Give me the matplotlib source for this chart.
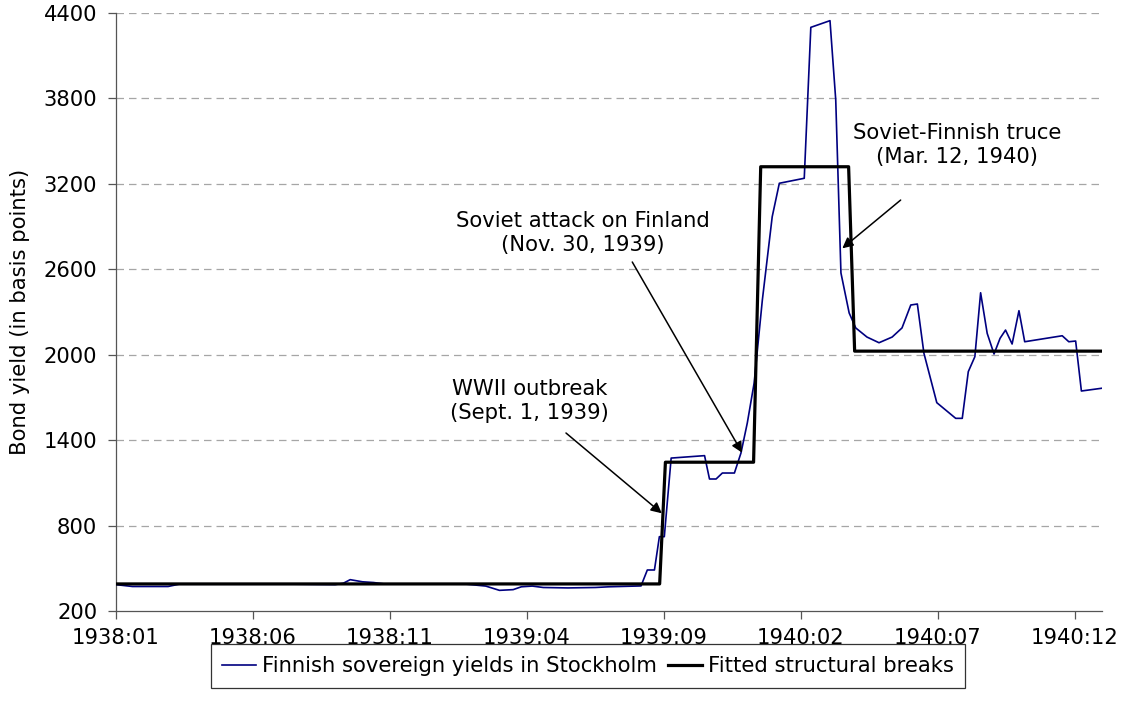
import matplotlib
matplotlib.use("Agg")
import matplotlib.pyplot as plt

# ---- data (x in months since 1938:01) ----
yield_month = [0.0, 0.6, 1.9, 2.3, 6.5, 8.0, 8.3, 8.55, 9.0, 9.4, 9.8, 12.8, 13.5, 14.0,
               14.5, 14.8, 15.2, 15.6, 16.5, 17.5, 18.0, 19.17, 19.40, 19.66, 19.84,
               20.02, 20.27, 21.49, 21.67, 21.91, 22.14, 22.58, 22.82, 23.05, 23.30,
               23.60, 23.96, 24.22, 25.13, 25.37, 26.07, 26.28, 26.47, 26.77, 27.01,
               27.42, 27.86, 28.34, 28.70, 29.02, 29.26, 29.50, 29.97, 30.66, 30.90,
               31.12, 31.36, 31.57, 31.81, 32.06, 32.28, 32.48, 32.72, 32.97, 33.18,
               34.55, 34.79, 35.04, 35.25, 35.98]
yield_bp = [385, 372, 372, 388, 388, 385, 395, 420, 405, 400, 390, 388, 375, 345,
            350, 370, 375, 365, 362, 365, 370, 376, 488, 488, 722,
            722, 1274, 1291, 1127, 1127, 1169, 1169, 1310, 1520, 1801,
            2384, 2969, 3204, 3239, 4299, 4346, 3789, 2574, 2293, 2188,
            2124, 2084, 2124, 2188, 2349, 2356, 2010, 1663, 1553, 1553,
            1881, 1986, 2435, 2150, 2005, 2115, 2173, 2075, 2309, 2091,
            2133, 2091, 2096, 1745, 1764]

break_month = [0, 19.85, 20.06, 23.28, 23.54, 26.75, 26.97, 36]
break_bp = [390, 390, 1245, 1245, 3320, 3320, 2025, 2025]

tick_months = [0, 5, 10, 15, 20, 25, 30, 35]
tick_labels = ["1938:01", "1938:06", "1938:11", "1939:04", "1939:09",
               "1940:02", "1940:07", "1940:12"]
y_ticks = [200, 800, 1400, 2000, 2600, 3200, 3800, 4400]

plt.rcParams['font.family'] = ['DejaVu Sans']
fs = 15.2

fig = plt.figure(figsize=(11.31, 7.01), dpi=100)
ax = fig.add_axes([0.1026, 0.1284, 0.8717, 0.8531])

ax.plot(yield_month, yield_bp, color='#000080', lw=1.2,
        label='Finnish sovereign yields in Stockholm', zorder=3)
ax.plot(break_month, break_bp, color='black', lw=2.3,
        label='Fitted structural breaks', zorder=4)

ax.set_xlim(0, 36)
ax.set_ylim(200, 4400)
ax.set_xticks(tick_months)
ax.set_xticklabels(tick_labels)
ax.set_yticks(y_ticks)
for v in y_ticks[1:]:
    ax.axhline(v, color='#a6a6a6', lw=0.9, ls=(0, (6, 4)), zorder=1)

for s in ['top', 'right']:
    ax.spines[s].set_visible(False)
for s in ['left', 'bottom']:
    ax.spines[s].set_color('#555555')
    ax.spines[s].set_linewidth(0.9)
ax.tick_params(axis='both', direction='out', length=5.5, width=0.9, color='#555555',
               labelsize=fs)
ax.tick_params(axis='y', pad=8)
ax.tick_params(axis='x', pad=7)
ax.set_ylabel('Bond yield (in basis points)', fontsize=fs, labelpad=10)

ann_kw = dict(ha='center', va='center', fontsize=fs, linespacing=1.3)
arrow_kw = dict(arrowstyle='-|>', color='black', lw=1.1, mutation_scale=16,
                shrinkA=0, shrinkB=0)

ax.text(15.1, 1675, 'WWII outbreak\n(Sept. 1, 1939)', **ann_kw)
ax.annotate('', xy=(19.93, 886), xytext=(16.43, 1450), arrowprops=arrow_kw)

ax.text(17.03, 2855, 'Soviet attack on Finland\n(Nov. 30, 1939)', **ann_kw)
ax.annotate('', xy=(22.86, 1312), xytext=(18.85, 2651), arrowprops=arrow_kw)

ax.text(30.71, 3473, 'Soviet-Finnish truce\n(Mar. 12, 1940)', **ann_kw)
ax.annotate('', xy=(26.52, 2747), xytext=(28.65, 3086), arrowprops=arrow_kw)

leg = fig.legend(loc='center', bbox_to_anchor=(588 / 1131, 1 - 666 / 701), ncol=2,
                 fontsize=fs, frameon=True, fancybox=False, edgecolor='black',
                 handlelength=1.6, handletextpad=0.3, columnspacing=0.5,
                 borderpad=0.55, borderaxespad=0)
leg.get_frame().set_linewidth(0.9)

fig.savefig('out.png', dpi=100)
